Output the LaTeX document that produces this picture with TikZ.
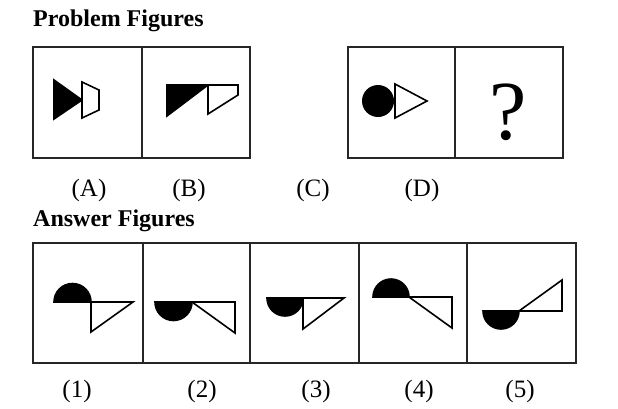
\documentclass[tikz,border=0pt]{standalone}
\usepackage{fontspec}
\setmainfont{Liberation Serif}
\begin{document}
\begin{tikzpicture}[x=1pt, y=-1pt,
  frame/.style={draw=black!85, line width=2.6pt},
  fig/.style={draw, line width=1.6pt, line join=miter},
  blk/.style={fig, fill=black},
  wht/.style={fig, fill=white},
  title/.style={font=\fontsize{24}{27}\selectfont\bfseries, anchor=base west, inner sep=0pt},
  lbl/.style={font=\fontsize{25}{28}\selectfont, inner sep=0pt}]
\useasboundingbox (0,0) rectangle (618,408);
\node[title] (ptitle) at (33,26) {Problem Figures};
\node[title] (atitle) at (33,226) {Answer Figures};
% boxes
\draw[frame] (33,47) rectangle (250,158) (142,47) -- (142,158);
\draw[frame] (348,47) rectangle (563,158) (455,47) -- (455,158);
\draw[frame] (33,243) rectangle (576,363);
\foreach \x in {143,250,359,467} \draw[frame] (\x,243) -- (\x,363);
% problem figures
\draw[blk] (54,80) -- (82,100) -- (54,119) -- cycle;
\draw[wht] (82,82) -- (99,90) -- (99,110) -- (82,118) -- cycle;
\draw[blk] (167,85) -- (208,85) -- (167,116) -- cycle;
\draw[wht] (208,85) -- (238,85) -- (238,95) -- (208,114) -- cycle;
\fill (378,101) circle[radius=16];
\draw[wht] (395,84) -- (427,101) -- (395,118) -- cycle;
\node[font=\fontsize{84}{90}\selectfont, inner sep=0pt] (qm) at (508,112) {?};
% answer figures
\draw[blk] (54,302) arc[start angle=180, end angle=360, radius=18.5] -- cycle;
\draw[wht] (91,302) -- (133,302) -- (91,332) -- cycle;
\draw[blk] (155,302) arc[start angle=180, end angle=0, radius=18.5] -- cycle;
\draw[wht] (192,302) -- (235,302) -- (235,333) -- cycle;
\draw[blk] (267,298) arc[start angle=180, end angle=0, radius=18] -- cycle;
\draw[wht] (303,298) -- (344,298) -- (303,329) -- cycle;
\draw[blk] (373,297) arc[start angle=180, end angle=360, radius=18] -- cycle;
\draw[wht] (409,297) -- (452,297) -- (452,328) -- cycle;
\draw[blk] (483,311) arc[start angle=180, end angle=0, radius=18] -- cycle;
\draw[wht] (519,311) -- (562,311) -- (562,280) -- cycle;
% labels
\foreach \t/\x in {A/89,B/189,C/313,D/422}
  \node[lbl] (l\t) at (\x,190) {(\t)};
\foreach \t/\x in {1/77,2/202,3/316,4/419,5/520}
  \node[lbl] (a\t) at (\x,391) {(\t)};
\end{tikzpicture}
\end{document}
